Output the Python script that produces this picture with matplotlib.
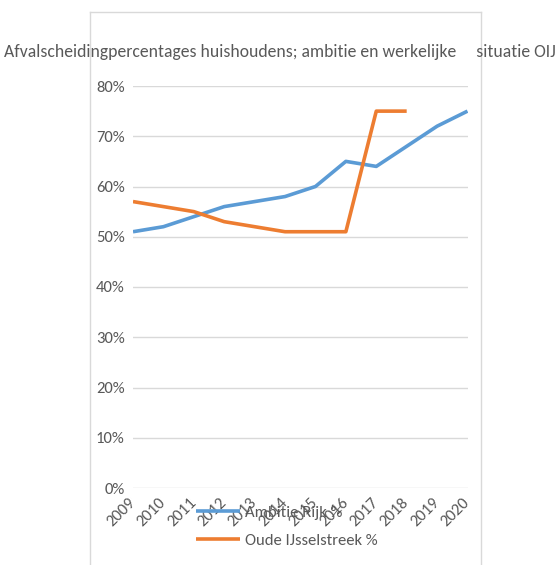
import matplotlib
matplotlib.use("Agg")
import matplotlib.pyplot as plt
from matplotlib.lines import Line2D
from matplotlib.ticker import PercentFormatter
from matplotlib import font_manager

years = ["2009", "2010", "2011", "2012", "2013", "2014", "2015", "2016", "2017", "2018", "2019", "2020"]
ambitie_rijk = [51, 52, 54, 56, 57, 58, 60, 65, 64, 68, 72, 75]
oude_ijsselstreek = [57, 56, 55, 53, 52, 51, 51, 51, 75, 75]
yticks = [0, 10, 20, 30, 40, 50, 60, 70, 80]
title = "Afvalscheidingpercentages huishoudens; ambitie en werkelijke     situatie OIJ"

names = {f.name for f in font_manager.fontManager.ttflist}
pref = ["Carlito", "Fira Sans Condensed", "Liberation Sans"]
chosen = next(n for n in pref if n in names)
plt.rcParams["font.family"] = [chosen, "DejaVu Sans"]

grey = "#595959"
W, H = 560, 565
fig = plt.figure(figsize=(W / 100, H / 100), dpi=100)
fig.patch.set_facecolor("white")

fc = "#d9d9d9"
fig.add_artist(Line2D([90 / W, 90 / W], [0, 1 - 12 / H], transform=fig.transFigure, color=fc, lw=1))
fig.add_artist(Line2D([481 / W, 481 / W], [0, 1 - 12 / H], transform=fig.transFigure, color=fc, lw=1))
fig.add_artist(Line2D([90 / W, 481 / W], [1 - 12 / H, 1 - 12 / H], transform=fig.transFigure, color=fc, lw=1))

left, right = 133 / W, 467.5 / W
bottom, top = 1 - 488 / H, 1 - 86 / H
ax = fig.add_axes([left, bottom, right - left, top - bottom])
x = list(range(len(years)))
ax.plot(x, ambitie_rijk, color="#5B9BD5", lw=2.6, label="Ambitie Rijk %", solid_capstyle="butt")
ax.plot(x[:len(oude_ijsselstreek)], oude_ijsselstreek, color="#ED7D31", lw=2.6, label="Oude IJsselstreek %", solid_capstyle="butt")
ax.set_xlim(0, len(years) - 1)
ax.set_ylim(0, 80)
ax.set_yticks(yticks)
ax.yaxis.set_major_formatter(PercentFormatter(decimals=0))
ax.set_xticks(x)
ax.set_xticklabels(years, rotation=45, ha="right", va="center", rotation_mode="anchor")
ax.grid(axis="y", color=fc, lw=1)
ax.set_axisbelow(True)
for s in ax.spines.values():
    s.set_visible(False)
ax.tick_params(length=0, colors=grey, labelsize=12)
ax.tick_params(axis="y", pad=6)
ax.tick_params(axis="x", pad=9)

fig.text(0.5, 1 - 52 / H, title, ha="center", va="center", fontsize=12.7, color=grey)

fig.legend(loc="upper left", bbox_to_anchor=(188 / W, 1 - 497 / H), frameon=False,
           handlelength=2.6, handletextpad=0.3, labelspacing=0.78, fontsize=12,
           labelcolor=grey, borderpad=0)

fig.savefig("out.png", dpi=100, facecolor="white")
